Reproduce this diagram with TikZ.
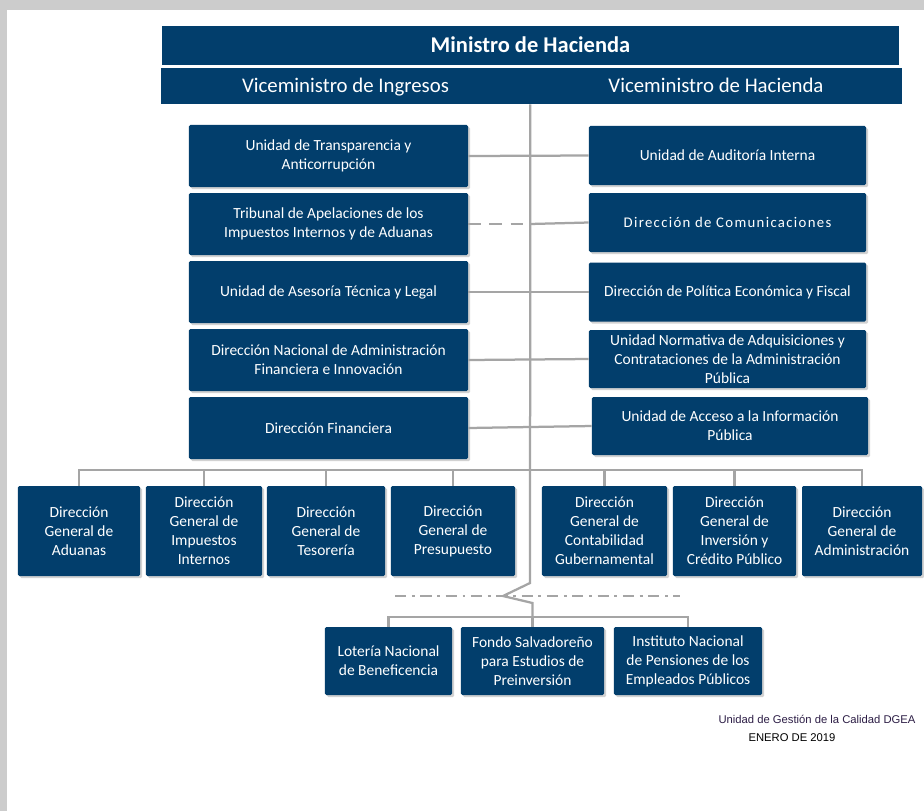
\documentclass[tikz,border=0pt]{standalone}
\usepackage{fontspec}
\setmainfont{Carlito}
\newfontfamily\arialfont{Liberation Sans}
\usetikzlibrary{shadows}

\definecolor{navy}{RGB}{2,62,108}
\definecolor{lineGray}{RGB}{165,165,165}
\definecolor{frameGray}{RGB}{204,204,204}
\definecolor{footInk}{RGB}{45,30,70}

\tikzstyle{headBox} = [rectangle, fill=navy, text=white, align=center, inner sep=1pt, text height=11pt, text depth=1.5pt, font=\fontsize{14.8}{17}\selectfont]
\tikzstyle{orgBox} = [rectangle, rounded corners=1pt, fill=navy, text=white, align=center, inner sep=1pt, font=\fontsize{11}{13.5}\selectfont, drop shadow={shadow xshift=1.5pt, shadow yshift=-1.5pt, opacity=0.35}]
\tikzstyle{leftBox} = [orgBox, minimum width=6.975cm, minimum height=1.55cm]
\tikzstyle{rightBox} = [orgBox, minimum width=6.925cm, minimum height=1.475cm]
\tikzstyle{dirBox} = [orgBox, minimum height=2.25cm]
\tikzstyle{lowBox} = [orgBox, minimum height=1.7cm]
\tikzstyle{footText} = [inner sep=0pt, font=\arialfont\fontsize{8}{9}\selectfont]
\tikzstyle{link} = [draw=lineGray, line width=1.6pt]
\tikzstyle{dashLink} = [link, dash pattern=on 9pt off 6pt]
\tikzstyle{dotLink} = [link, line width=1.8pt, dash pattern=on 8pt off 4pt on 2pt off 4pt]

\begin{document}
\begin{tikzpicture}[x=0.025cm, y=-0.025cm]
    % frame
    \fill[frameGray] (0,0) rectangle (924,811);
    \fill[white] (7,10) rectangle (924,811);
    \useasboundingbox (0,0) rectangle (924,811);

    \node (ministro)[headBox, minimum width=18.425cm, minimum height=0.975cm, font=\fontsize{16}{18}\selectfont\bfseries] at (530.5,45.5) {Ministro de Hacienda};
    \node (viceIng)[headBox, minimum width=9.225cm, minimum height=0.9cm] at (345.5,86) {Viceministro de Ingresos};
    \node (viceHac)[headBox, minimum width=9.3cm, minimum height=0.9cm] at (716,86) {Viceministro de Hacienda};

    % left column
    \node (transparencia)[leftBox] at (328.5,156) {Unidad de Transparencia y\\Anticorrupción};
    \node (tribunal)[leftBox] at (328.5,224) {Tribunal de Apelaciones de los\\Impuestos Internos y de Aduanas};
    \node (asesoria)[leftBox] at (328.5,292) {Unidad de Asesoría Técnica y Legal};
    \node (dnafi)[leftBox] at (328.5,360) {Dirección Nacional de Administración\\Financiera e Innovación};
    \node (financiera)[leftBox] at (328.5,428) {Dirección Financiera};

    % right column
    \node (auditoria)[rightBox] at (727.5,155.5) {Unidad de Auditoría Interna};
    \node (comunicaciones)[rightBox, font=\fontsize{10.5}{13}\selectfont\addfontfeature{LetterSpace=9}] at (727.5,222.5) {Dirección de Comunicaciones};
    \node (politica)[rightBox] at (727.5,292) {Dirección de Política Económica y Fiscal};
    \node (normativa)[rightBox, minimum height=1.45cm] at (727.5,359) {Unidad Normativa de Adquisiciones y\\Contrataciones de la Administración\\Pública};
    \node (acceso)[rightBox, minimum width=6.9cm, minimum height=1.45cm] at (730,426) {Unidad de Acceso a la Información\\Pública};

    % direcciones generales
    \node (aduanas)[dirBox, minimum width=3.05cm] at (79,531) {Dirección\\General de\\Aduanas};
    \node (impuestos)[dirBox, minimum width=2.9cm] at (204,531) {Dirección\\General de\\Impuestos\\Internos};
    \node (tesoreria)[dirBox, minimum width=2.95cm] at (326,531) {Dirección\\General de\\Tesorería};
    \node (presupuesto)[dirBox, minimum width=3.1cm] at (453,531) {Dirección\\General de\\Presupuesto};
    \node (contabilidad)[dirBox, minimum width=3.125cm] at (604.5,531) {Dirección\\General de\\Contabilidad\\Gubernamental};
    \node (inversion)[dirBox, minimum width=3.075cm] at (734.5,531) {Dirección\\General de\\Inversión y\\Crédito Público};
    \node (administracion)[dirBox, minimum width=3cm] at (862,531) {Dirección\\General de\\Administración};

    % adscritas
    \node (loteria)[lowBox, minimum width=3.175cm] at (388.5,661) {Lotería Nacional\\de Beneficencia};
    \node (fondo)[lowBox, minimum width=3.575cm] at (532.5,661) {Fondo Salvadoreño\\para Estudios de\\Preinversión};
    \node (instituto)[lowBox, minimum width=3.7cm] at (688,661) {Instituto Nacional\\de Pensiones de los\\Empleados Públicos};

    \node (calidad)[footText, text=footInk] at (817,719) {Unidad de Gestión de la Calidad DGEA};
    \node (fecha)[footText] at (792,738) {ENERO DE 2019};

    \coordinate (busTop) at (530,470);
    \coordinate (kinkTop) at (530,583);
    \coordinate (kinkTip) at (503,596);
    \coordinate (kinkLow) at (532.5,603);
    \coordinate (busLow) at (532.5,617);
    \coordinate (cutL) at (395,596);
    \coordinate (cutR) at (680,596);

    \draw [link] (viceIng.south east) -- (kinkTop) -- (kinkTip) -- (kinkLow) -- (busLow);
    \draw [link] (transparencia.east) -- (auditoria.west);
    \draw [dashLink] (tribunal.east) -- (tribunal.east -| busTop);
    \draw [link] (tribunal.east -| busTop) -- (comunicaciones.west);
    \draw [link] (asesoria.east) -- (politica.west);
    \draw [link] (dnafi.east) -- (normativa.west);
    \draw [link] (financiera.east) -- (acceso.west);

    \draw [link] (aduanas.north) -- (aduanas.north |- busTop) -- (administracion.north |- busTop) -- (administracion.north);
    \foreach \n in {impuestos,tesoreria,presupuesto,contabilidad,inversion}
        \draw [link] (\n.north) -- (\n.north |- busTop);

    \draw [dotLink] (cutL) -- (cutR);
    \draw [link] (loteria.north) -- (loteria.north |- busLow) -- (instituto.north |- busLow) -- (instituto.north);
    \draw [link] (busLow) -- (fondo.north);

\end{tikzpicture}
\end{document}
